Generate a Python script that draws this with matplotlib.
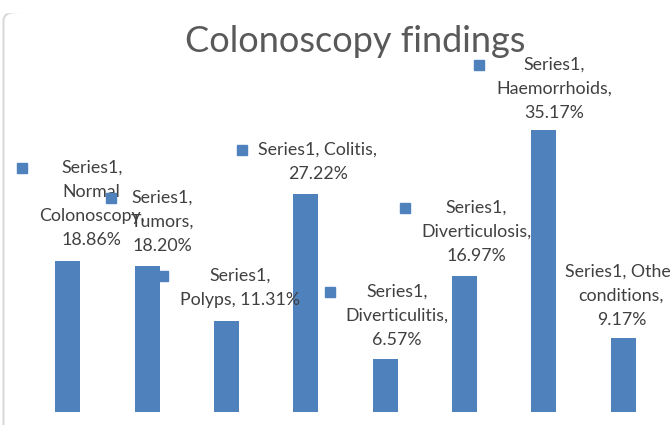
import matplotlib
matplotlib.use("Agg")
import matplotlib.pyplot as plt
from matplotlib.patches import FancyBboxPatch

categories = ["Normal Colonoscopy", "Tumors", "Polyps", "Colitis",
              "Diverticulitis", "Diverticulosis", "Haemorrhoids", "Other conditions"]
values = [18.86, 18.20, 11.31, 27.22, 6.57, 16.97, 35.17, 9.17]

# how each data label wraps (Excel style "Series, Category, Value")
label_fmt = [
    "Series1,\nNormal\nColonoscopy,\n{v:.2f}%",
    "Series1,\nTumors,\n{v:.2f}%",
    "Series1,\nPolyps, {v:.2f}%",
    "Series1, Colitis,\n{v:.2f}%",
    "Series1,\nDiverticulitis,\n{v:.2f}%",
    "Series1,\nDiverticulosis,\n{v:.2f}%",
    "Series1,\nHaemorrhoids,\n{v:.2f}%",
    "Series1, Other\nconditions,\n{v:.2f}%",
]
# label placement, pixels relative to the bar base
text_dx = [24, 15, 14, 12, 12, 12, 10, -2]
text_dy = [244, 214, 136, 262, 120, 204, 347, 140]
key_dx = [-46, -36, -63, -64, -55, -60, -65, -80]

bar_color = "#4F81BD"
W, H = 670, 425

plt.rcParams['font.family'] = ['Lato', 'DejaVu Sans']
fig = plt.figure(figsize=(6.7, 4.25), dpi=100)
ax = fig.add_axes([28 / W, 13 / H, 635 / W, 321 / H])
ax.bar(range(len(values)), values, width=0.315, color=bar_color, zorder=2)
ax.set_xlim(-0.5, len(values) - 0.5)
ax.set_ylim(0, 40)
ax.axis("off")

for i, v in enumerate(values):
    ax.annotate(label_fmt[i].format(v=v), xy=(i, 0), xycoords="data",
                xytext=(text_dx[i], text_dy[i] + 8), textcoords="offset pixels",
                ha="center", va="top", fontsize=12.8, color="#404040",
                linespacing=1.62, zorder=5, annotation_clip=False)
    # legend key square in front of each label
    kx, ky = ax.transData.transform((i, 0))
    sq = plt.Rectangle(((kx + key_dx[i] - 5) / W, (ky + text_dy[i] - 5) / H),
                       10 / W, 10 / H, transform=fig.transFigure,
                       color=bar_color, zorder=1)
    fig.add_artist(sq)

# chart area outline, only its left side and lower-left corner fall inside
frame = FancyBboxPatch((3.5 / W, -20 / H), 700 / W, 433 / H,
                       boxstyle="round,pad=0,rounding_size=0.02",
                       transform=fig.transFigure, fill=False,
                       edgecolor="#d9d9d9", linewidth=1.5)
fig.add_artist(frame)
fig.add_artist(plt.Rectangle((0, 1 - 12 / H), 1, 12 / H, transform=fig.transFigure,
                             color="white", zorder=3))

fig.text(355 / W, 1 - 42 / H, "Colonoscopy findings", ha="center", va="center",
         fontsize=26, color="#595959", zorder=4)

fig.savefig("out.png", dpi=100)
